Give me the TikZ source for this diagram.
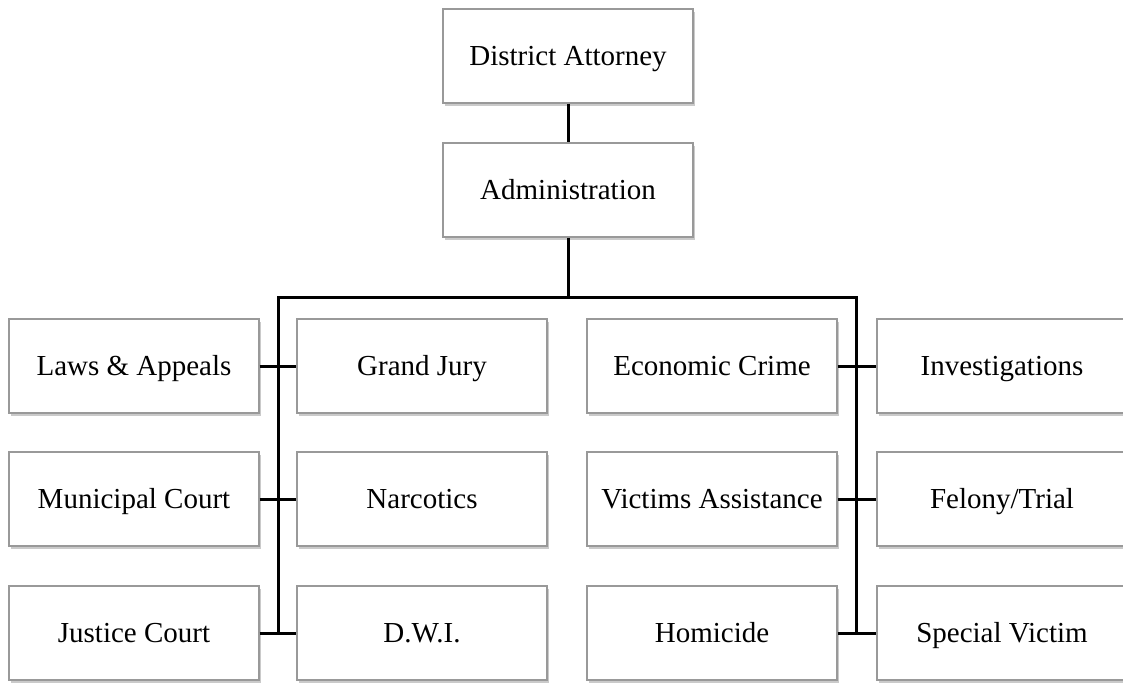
\documentclass[tikz,border=0pt]{standalone}
\usepackage{fontspec}
\setmainfont{Liberation Serif}
\usetikzlibrary{shadows}

\tikzset{
  unit/.style={draw=black!40, line width=1.3pt, fill=white, minimum width=250pt, minimum height=94pt,
    inner sep=0pt, font=\fontsize{29}{34}\selectfont, text height=22pt, text depth=4pt,
    drop shadow={shadow xshift=1.5pt, shadow yshift=-2.5pt, opacity=.35, fill=black!60}},
  link/.style={line width=3pt}
}

\begin{document}
\begin{tikzpicture}[x=1pt, y=-1pt]
				\useasboundingbox (0,0) rectangle (1123,683);
				\node[unit] (da) at (568,56) {District Attorney};
				\node[unit] (adm) at (568,190) {Administration};
				% first row
				\node[unit] (laws) at (134,366) {Laws \& Appeals};
				\node[unit] (jury) at (422,366) {Grand Jury};
				\node[unit] (econ) at (712,366) {Economic Crime};
				\node[unit] (inv) at (1002,366) {Investigations};
				% second row
				\node[unit] (muni) at (134,499) {Municipal Court};
				\node[unit] (narc) at (422,499) {Narcotics};
				\node[unit] (vict) at (712,499) {Victims Assistance};
				\node[unit] (fel) at (1002,499) {Felony/Trial};
				% third row
				\node[unit] (just) at (134,633) {Justice Court};
				\node[unit] (dwi) at (422,633) {D.W.I.};
				\node[unit] (hom) at (712,633) {Homicide};
				\node[unit] (spec) at (1002,633) {Special Victim};
				\coordinate (busL) at (278,297);
				\coordinate (busR) at (856,297);
				\draw[link] (da.south) -- (adm.north);
				\draw[link] (adm.south) -- (adm.south |- busL);
				\draw[link] (busL |- just.east) -- (busL) -- (busR) -- (busR |- spec.west);
				\draw[link] (laws.east) -- (jury.west);
				\draw[link] (muni.east) -- (narc.west);
				\draw[link] (just.east) -- (dwi.west);
				\draw[link] (econ.east) -- (inv.west);
				\draw[link] (vict.east) -- (fel.west);
				\draw[link] (hom.east) -- (spec.west);
			\end{tikzpicture}
\end{document}
